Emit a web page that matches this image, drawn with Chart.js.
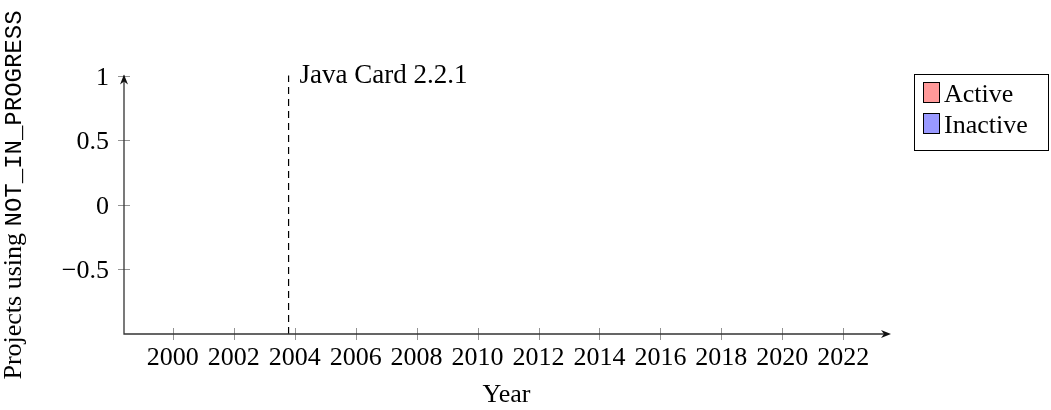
<!DOCTYPE html>
<html>
<head>
<meta charset="utf-8">
<script src="https://cdn.jsdelivr.net/npm/chart.js@4.4.0/dist/chart.umd.min.js"></script>
<style>
  html, body { margin: 0; padding: 0; background: #fff; }
  #wrap { width: 1051px; height: 410px; position: relative; }
</style>
</head>
<body>
<div id="wrap"><canvas id="chart" width="1051" height="410"></canvas></div>
<script>
// Chart data
const xTicks = [2000, 2002, 2004, 2006, 2008, 2010, 2012, 2014, 2016, 2018, 2020, 2022];
const yTicks = [1, 0.5, 0, -0.5];
const activeData = [];
const inactiveData = [];
const seriesNames = ["Active", "Inactive"];
const seriesColors = ["#ff9999", "#9999ff"];
const eventYear = 2003.8;
const eventLabel = "Java Card 2.2.1";

const serif = "'Liberation Serif', 'Times New Roman', serif";
const mono = "'Liberation Mono', 'DejaVu Sans Mono', monospace";

function fmt(v) {
  return v < 0 ? "\u2212" + Math.abs(v) : String(v);
}

// Draws the axes, ticks, event line label, titles and legend pgfplots-style
const drawPlugin = {
  id: "drawPlugin",
  afterDraw(chart) {
    const ctx = chart.ctx;
    const x = chart.scales.x;
    const y = chart.scales.y;
    const left = chart.chartArea.left;
    const bottom = chart.chartArea.bottom;
    const top = y.getPixelForValue(1);
    const right = chart.chartArea.right;

    ctx.save();

    // ticks
    ctx.strokeStyle = "#777";
    ctx.lineWidth = 0.8;
    xTicks.forEach((t) => {
      const px = Math.round(x.getPixelForValue(t)) + 0.5;
      ctx.beginPath();
      ctx.moveTo(px, bottom - 6);
      ctx.lineTo(px, bottom + 6);
      ctx.stroke();
    });
    yTicks.forEach((t) => {
      const py = Math.round(y.getPixelForValue(t)) + 0.5;
      ctx.beginPath();
      ctx.moveTo(left - 6, py);
      ctx.lineTo(left + 6, py);
      ctx.stroke();
    });

    // axis lines
    ctx.strokeStyle = "#333";
    ctx.lineWidth = 1.3;
    ctx.beginPath();
    ctx.moveTo(left, top);
    ctx.lineTo(left, bottom);
    ctx.lineTo(right - 2, bottom);
    ctx.stroke();

    // arrow heads
    ctx.fillStyle = "#111";
    ctx.beginPath();
    ctx.moveTo(right + 2, bottom);
    ctx.lineTo(right - 8, bottom - 4);
    ctx.lineTo(right - 5, bottom);
    ctx.lineTo(right - 8, bottom + 4);
    ctx.closePath();
    ctx.fill();
    ctx.beginPath();
    ctx.moveTo(left, top - 1);
    ctx.lineTo(left - 4, top + 9);
    ctx.lineTo(left, top + 6);
    ctx.lineTo(left + 4, top + 9);
    ctx.closePath();
    ctx.fill();

    // tick labels
    ctx.fillStyle = "#000";
    ctx.font = "26px " + serif;
    ctx.textAlign = "center";
    ctx.textBaseline = "alphabetic";
    xTicks.forEach((t) => {
      ctx.fillText(String(t), x.getPixelForValue(t), 365);
    });
    ctx.textAlign = "right";
    yTicks.forEach((t) => {
      ctx.fillText(fmt(t), left - 15, y.getPixelForValue(t) + 9);
    });

    // event label
    ctx.textAlign = "left";
    ctx.font = "27px " + serif;
    ctx.fillText(eventLabel, x.getPixelForValue(eventYear) + 11, 83);
    ctx.font = "26px " + serif;

    // x title
    ctx.textAlign = "center";
    ctx.fillText("Year", (left + right) / 2, 402);

    // y title (serif + monospace parts)
    ctx.save();
    ctx.translate(21, 195);
    ctx.rotate(-Math.PI / 2);
    ctx.font = "26px " + serif;
    const part1 = "Projects using ";
    const w1 = ctx.measureText(part1).width;
    ctx.font = "24px " + mono;
    const part2 = "NOT_IN_PROGRESS";
    const w2 = ctx.measureText(part2).width;
    const start = -(w1 + w2) / 2;
    ctx.textAlign = "left";
    ctx.font = "26px " + serif;
    ctx.fillText(part1, start, 0);
    ctx.font = "24px " + mono;
    ctx.fillText(part2, start + w1, 0);
    ctx.restore();

    // legend
    ctx.strokeStyle = "#000";
    ctx.lineWidth = 1;
    ctx.strokeRect(914.5, 74.5, 134, 76);
    ctx.font = "26px " + serif;
    ctx.textAlign = "left";
    seriesNames.forEach((name, i) => {
      const yy = 82 + i * 31;
      ctx.fillStyle = seriesColors[i];
      ctx.fillRect(923, yy, 16, 20);
      ctx.strokeRect(923.5, yy + 0.5, 16, 20);
      ctx.fillStyle = "#000";
      ctx.fillText(name, 944, yy + 20);
    });

    ctx.restore();
  },
};

const chart = new Chart(document.getElementById("chart"), {
  type: "scatter",
  data: {
    datasets: [
      { label: seriesNames[0], data: activeData, backgroundColor: seriesColors[0] },
      { label: seriesNames[1], data: inactiveData, backgroundColor: seriesColors[1] },
      {
        label: eventLabel,
        type: "line",
        data: [
          { x: eventYear, y: -1 },
          { x: eventYear, y: 1 },
        ],
        borderColor: "#000",
        borderWidth: 1.2,
        borderDash: [7, 5],
        pointRadius: 0,
        fill: false,
      },
    ],
  },
  options: {
    responsive: false,
    animation: false,
    layout: { padding: { left: 0, right: 1051 - 889, top: 73, bottom: 0 } },
    plugins: { legend: { display: false }, tooltip: { enabled: false } },
    scales: {
      x: {
        type: "linear",
        min: 1998.4,
        max: 2023.5,
        grid: { display: false },
        border: { display: false },
        ticks: { display: false },
        afterBuildTicks: (s) => { s.ticks = xTicks.map((v) => ({ value: v })); },
        afterFit: (s) => { s.height = 410 - 334; },
      },
      y: {
        type: "linear",
        min: -1,
        max: 1.02,
        grid: { display: false },
        border: { display: false },
        ticks: { display: false },
        afterBuildTicks: (s) => { s.ticks = yTicks.map((v) => ({ value: v })); },
        afterFit: (s) => { s.width = 124; },
      },
    },
  },
  plugins: [drawPlugin],
});
</script>
</body>
</html>
